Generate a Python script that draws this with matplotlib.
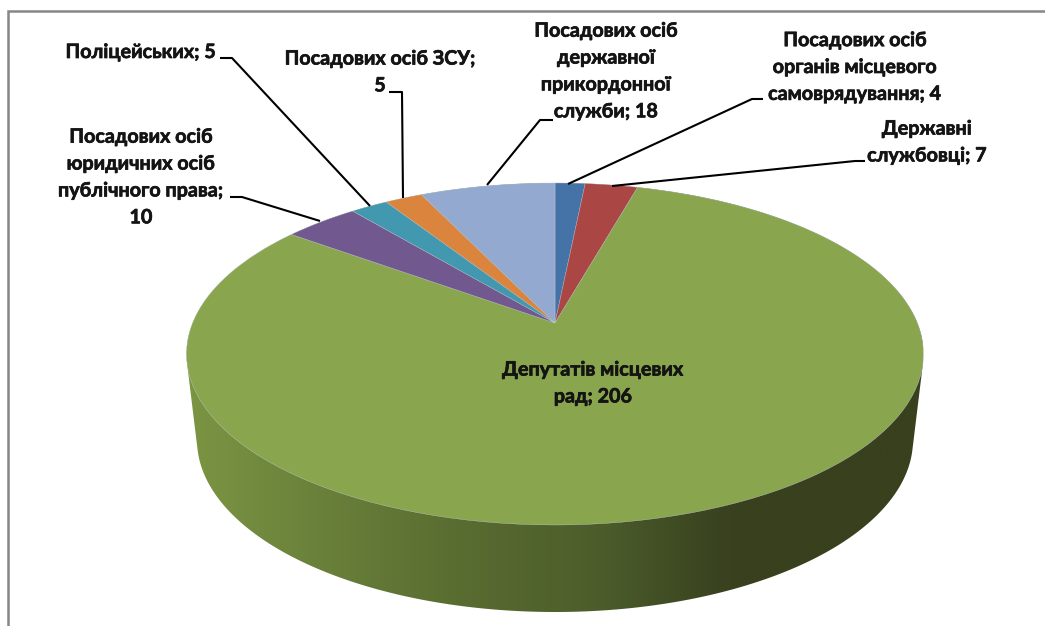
import numpy as np
import matplotlib
matplotlib.use('Agg')
import matplotlib.pyplot as plt
from matplotlib.path import Path
from matplotlib.patches import PathPatch
from matplotlib.transforms import Transform
from matplotlib.colors import LinearSegmentedColormap
import matplotlib.patheffects as pe

plt.rcParams['font.family'] = ['Lato', 'Noto Sans', 'DejaVu Sans']

labels = ['Посадових осіб\nорганів місцевого\nсамоврядування; 4',
          'Державні\nслужбовці; 7',
          'Депутатів місцевих\nрад; 206',
          'Посадових осіб\nюридичних осіб\nпублічного права;\n10',
          'Поліцейських; 5',
          'Посадових осіб ЗСУ;\n5',
          'Посадових осіб\nдержавної\nприкордонної\nслужби; 18']
values = [4, 7, 206, 10, 5, 5, 18]
colors = ['#4572A7', '#AA4643', '#89A54E', '#71588F', '#4198AF', '#DB843D', '#93A9CF']

label_xy = [(855, 67), (927, 142), (593, 383), (141, 177), (141, 52), (380, 72), (606, 71)]
leaders = [[(568, 184), (752, 99), (763, 99)],
           [(612, 186), (855, 161), (865, 161)],
           None,
           [(320, 221), (242, 197), (230, 197)],
           [(370, 206), (232, 58), (220, 58)],
           [(403, 198), (402, 92), (389, 92)],
           [(487, 185), (540, 120), (553, 120)]]

wall_stops = [(0.0, '#7B9543'), (0.22, '#667C38'), (0.385, '#586B30'),
              (0.56, '#4C5D2B'), (0.70, '#3C4621'), (0.75, '#38401E'), (1.0, '#38401E')]


class Projection(Transform):
    input_dims = output_dims = 2

    def transform_non_affine(self, pts):
        pts = np.asarray(pts, float)
        d = 1 + 0.181 * pts[:, 1]
        return np.column_stack((555 + 362.4 * pts[:, 0] / d, 323 - 165.4 * pts[:, 1] / d))


def hull(pts):
    pts = sorted(map(tuple, pts))
    def half(seq):
        out = []
        for p in seq:
            while len(out) > 1 and ((out[-1][0] - out[-2][0]) * (p[1] - out[-2][1])
                                    - (out[-1][1] - out[-2][1]) * (p[0] - out[-2][0])) <= 0:
                out.pop()
            out.append(p)
        return out[:-1]
    return np.array(half(pts) + half(pts[::-1]))


fig = plt.figure(figsize=(10.45, 6.26), dpi=100)
ax = fig.add_axes([0, 0, 1, 1])

t = np.linspace(0, 2 * np.pi, 361)
top = np.column_stack((555 + 368.5 * np.cos(t), 354 + 171 * np.sin(t)))
bot = np.column_stack((555 + 358 * np.cos(t), 440 + 172 * np.sin(t)))
clip = hull(np.vstack((top, bot)))
grad = LinearSegmentedColormap.from_list('wall', wall_stops)
img = ax.imshow(np.linspace(0, 1, 512)[None, :], cmap=grad, aspect='auto',
                extent=(186, 923, 626, 150), zorder=1)
img.set_clip_path(PathPatch(Path(np.vstack((clip, clip[:1])), closed=True), transform=ax.transData))

wedges, _ = ax.pie(values, startangle=90, counterclock=False, colors=colors, frame=False,
                   wedgeprops=dict(edgecolor='#C8D2E0', linewidth=0.25))
proj = Projection()
for w in wedges:
    w.set_transform(proj + ax.transData)
    w.set_zorder(2)

ax.set_aspect('auto')
ax.set_xlim(0, 1045)
ax.set_ylim(626, 0)
ax.set_axis_off()

for s, (x, y), pts in zip(labels, label_xy, leaders):
    ax.text(x, y, s, ha='center', va='center', fontsize=14.2, fontweight='bold',
            color='#141414', linespacing=1.43, zorder=4,
            path_effects=[pe.withStroke(linewidth=0.5, foreground='#141414')])
    if pts:
        ax.plot(*zip(*pts), color='black', lw=1.5, zorder=3, solid_capstyle='butt')

ax.plot([8, 8, 1045], [626, 11, 11], color='#868686', lw=1.8, zorder=3, solid_joinstyle='miter')

fig.savefig('out.png', dpi=100)
